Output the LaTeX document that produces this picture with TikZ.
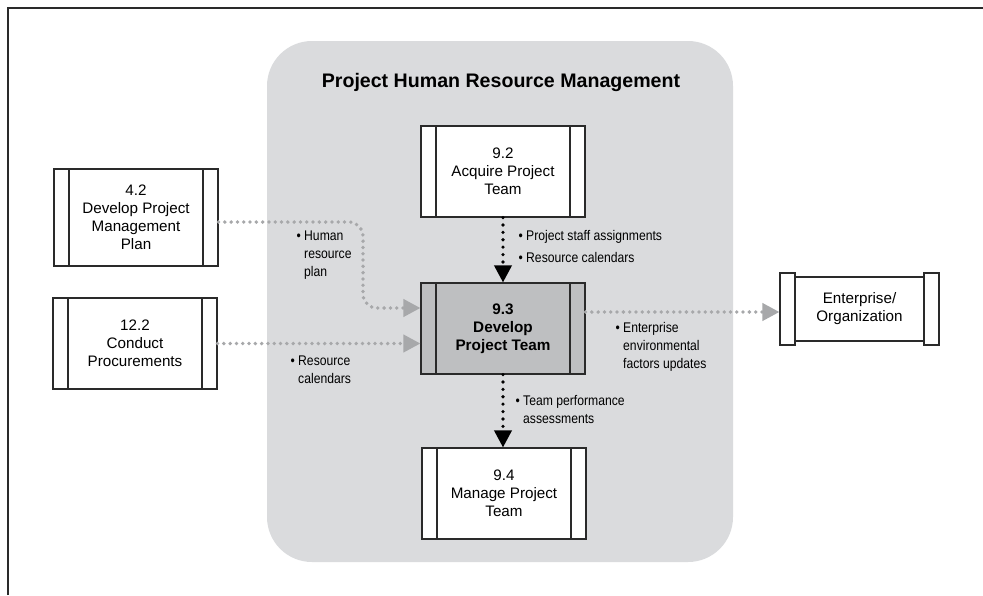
\documentclass[tikz,border=0pt]{standalone}
\usepackage{fontspec}
\setmainfont{Liberation Sans}
\newfontfamily\narrowfont[FakeStretch=0.87]{Liberation Sans}
\usetikzlibrary{arrows.meta}
\definecolor{regionfill}{HTML}{DADBDD}
\definecolor{hubfill}{HTML}{BEBFC1}
\definecolor{dotgray}{HTML}{A7A8AA}
\definecolor{edgecol}{HTML}{2A2A2A}
\tikzset{
  proc/.style={draw=edgecol, line width=1.1pt, fill=white, minimum width=164pt,
    minimum height=91pt, inner sep=0pt, align=center,
    font=\fontsize{15.2}{18}\selectfont,
    path picture={
      \draw[edgecol, line width=1.1pt]
        ([xshift=15pt]path picture bounding box.north west) --
        ([xshift=15pt]path picture bounding box.south west);
      \draw[edgecol, line width=1.1pt]
        ([xshift=-15pt]path picture bounding box.north east) --
        ([xshift=-15pt]path picture bounding box.south east);}},
  hub/.style={proc, fill=hubfill, font=\fontsize{15.3}{18}\selectfont\bfseries},
  entbox/.style={draw=edgecol, line width=1.1pt, fill=white, minimum width=129pt,
    minimum height=64pt, inner sep=0pt, align=center,
    font=\fontsize{15.2}{18}\selectfont},
  capbox/.style={draw=edgecol, line width=1.1pt, fill=white, minimum width=15pt,
    minimum height=72pt, inner sep=0pt},
  region/.style={fill=regionfill, rounded corners=45pt, minimum width=466pt,
    minimum height=521pt, inner sep=0pt},
  grayflow/.style={draw=dotgray, line width=3.8pt, line cap=round,
    dash pattern=on 0pt off 6.3pt,
    -{Triangle[length=17pt,width=17pt,fill=dotgray]}},
  blackflow/.style={draw=black, line width=3.6pt, line cap=round,
    dash pattern=on 0pt off 7.4pt,
    -{Triangle[length=17pt,width=17pt,fill=black]}},
  lbl/.style={anchor=north west, inner sep=0pt, align=left,
    font=\narrowfont\fontsize{14}{18}\selectfont},
  ttl/.style={inner sep=0pt, font=\fontsize{19.6}{22}\selectfont\bfseries},
}
\begin{document}
\begin{tikzpicture}[x=1pt,y=-1pt]
\useasboundingbox (0,0) rectangle (983,595);
\fill[white] (0,0) rectangle (983,595);
% frame
\draw[edgecol, line width=2pt] (8,595) -- (8,8) -- (983,8);
% region
\node[region] (hrm) at (500,301.5) {};
\node[ttl] (title) at (501,82) {Project Human Resource Management};
% processes
\node[proc] (acq) at (503,171.5) {9.2\\Acquire Project\\Team};
\node[hub] (dev) at (503,328.5) {9.3\\Develop\\Project Team};
\node[proc] (mgr) at (504,493.5) {9.4\\Manage Project\\Team};
\node[proc, minimum height=97pt] (plan) at (136,217.5) {4.2\\Develop Project\\Management\\Plan};
\node[proc] (proc) at (135,343.5) {12.2\\Conduct\\Procurements};
\node[entbox] (ent) at (859.5,309) {Enterprise/\\Organization};
\node[capbox] (entL) at (787.5,309) {};
\node[capbox] (entR) at (931.5,309) {};
% connectors
\coordinate (bend) at (363,300);
\draw[blackflow] (acq.south) -- (dev.north);
\draw[blackflow] (dev.south) -- (dev.south |- mgr.north);
\draw[grayflow, rounded corners=14pt] ([yshift=-4.5pt]plan.east) -| ([yshift=20.5pt]dev.west -| bend) -- ([yshift=20.5pt]dev.west);
\draw[grayflow] (proc.east) -- (proc.east -| dev.west);
\draw[grayflow] ([yshift=16.5pt]dev.east) -- ([yshift=16.5pt]dev.east -| entL.west);
% labels
\node[lbl] (l1) at (304,231) {\llap{\textbullet\ }Human\\resource\\plan};
\node[lbl] (l2) at (298,356) {\llap{\textbullet\ }Resource\\calendars};
\node[lbl] (l3) at (526,230) {\llap{\textbullet\ }Project staff assignments};
\node[lbl] (l4) at (526,252) {\llap{\textbullet\ }Resource calendars};
\node[lbl] (l5) at (523,395) {\llap{\textbullet\ }Team performance\\assessments};
\node[lbl] (l6) at (623,322) {\llap{\textbullet\ }Enterprise\\environmental\\factors updates};
\end{tikzpicture}
\end{document}
